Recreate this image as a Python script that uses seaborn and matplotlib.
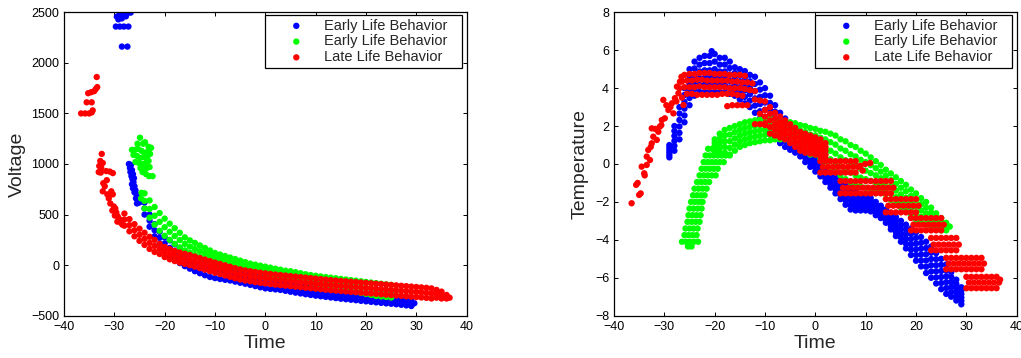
import numpy as np
import pandas as pd
import matplotlib
matplotlib.use("Agg")
import matplotlib.pyplot as plt
import seaborn as sns

nan = np.nan

LABELS = ["Early Life Behavior", "Early Life Behavior", "Late Life Behavior"]
COLORS = ["#0000ff", "#00ff00", "#ff0000"]

# ======================= LEFT PANEL : Voltage vs Time =======================
volt_blue_time = list(range(-24, 30))
volt_blue_upper = [620, 500, 405, 330, 275, 245, 205, 170, 140, 115, 90, 70, 50, 33, 12, -7, -25, -42,
                   -53, -64, -74, -85, -97, -109, -120, -135, -150, -165, -174, -183, -192, -200, -208,
                   -215, -222, -228, -234, -240, -246, -252, -257, -262, -267, -273, -278, -283, -288,
                   -293, -298, -302, -307, -312, -318, -324]
volt_blue_mid = [560, 440, 345, 270, 215, 170, 130, 95, 65, 40, 15, -5, -25, -42, -58, -72, -85, -97,
                 -108, -119, -129, -140, -152, -164, -175, -185, -195, -205, -214, -223, -232, -240,
                 -248, -255, -262, -268, -274, -280, -286, -292, -297, -302, -307, -313, -318, -323,
                 -328, -333, -338, -342, -347, -352, -358, -364]
volt_blue_lower = [500, 380, 285, 210, 155, 95, 55, 20, -10, -35, -60, -80, -100, -117, -128, -137, -145,
                   -152, -163, -174, -184, -195, -207, -219, -230, -235, -240, -245, -254, -263, -272,
                   -280, -288, -295, -302, -308, -314, -320, -326, -332, -337, -342, -347, -353, -358,
                   -363, -368, -373, -378, -382, -387, -392, -398, -404]
volt_blue_extra_time = [-29.5, -28.9, -28.1, -27.2, -26.75, -27.7, -29.2, -28.5, -29.7, -28.9, -28.1, -27.2,
                        -28.5, -27.4,
                        -27.1, -26.9, -26.7, -26.8, -26.5, -26.6, -26.3, -26.4, -26.1, -26.5, -26.2, -26.3,
                        -26.0, -25.8, -26.0, -25.6, -25.7, -25.4, -25.3, -25.5, -25.0, 29.6]
volt_blue_extra = [2457, 2484, 2474, 2497, 2497, 2460, 2430, 2440, 2359, 2359, 2359, 2359, 2161, 2161,
                   1000, 960, 990, 920, 940, 880, 900, 850, 860, 800, 820, 760, 780, 740, 720, 700, 660,
                   680, 640, 610, 620, -377]

volt_green_time = list(range(-24, 26))
volt_green_upper = [710, 640, 575, 515, 460, 410, 365, 320, 275, 245, 220, 195, 170, 145, 120, 105, 90, 75,
                    60, 45, 30, 15, 5, -5, -15, -25, -35, -45, -55, -60, -70, -80, -90, -98, -105, -112,
                    -118, -124, -130, -136, -142, -148, -154, -160, -166, -172, -178, -184, -190, -196]
volt_green_mid = [635, 555, 488, 428, 375, 330, 288, 248, 210, 183, 160, 138, 115, 93, 73, 58, 43, 30, 18,
                  5, -8, -20, -30, -40, -50, -60, -70, -80, -90, -98, -108, -118, -128, -137, -145, -154,
                  -162, -170, -178, -186, -194, -202, -210, -218, -226, -234, -242, -247, -253, -258]
volt_green_lower = [560, 470, 400, 340, 290, 250, 210, 175, 145, 120, 100, 80, 60, 40, 25, 10, -5, -15,
                    -25, -35, -45, -55, -65, -75, -85, -95, -105, -115, -125, -135, -145, -155, -165, -175,
                    -185, -195, -205, -215, -225, -235, -245, -255, -265, -275, -285, -295, -305, -310,
                    -315, -320]
volt_green_extra_time = [-24.9, -25.4, -24.3, -23.9, -23.2, -26.5, -25.9, -25.3, -24.6, -24.0, -23.4, -22.7,
                         -26.2, -25.5, -24.9, -24.2, -23.5, -22.9, -25.8, -25.1, -24.5, -23.8, -23.2,
                         -24.8, -24.2, -23.6, -23.0, -24.4, -23.7, -23.1, -22.4, -24.6, -24.7]
volt_green_extra = [1260, 1200, 1200, 1215, 1170, 1140, 1140, 1150, 1130, 1110, 1120, 1160, 1090, 1080,
                    1060, 1070, 1060, 1100, 1020, 1010, 1000, 1010, 1030, 960, 950, 960, 970, 920, 900,
                    880, 880, 715, 660]

volt_red_time = list(range(-28, 37))
volt_red_upper = [510, 455, 405, 360, 320, 280, 250, 210, 180, 158, 140, 125, 112, 100, 85, 70, 55, 40, 25,
                  12, -2, -16, -30, -42, -52, -60, -68, -75, -81, -87, -93, -98, -103, -108, -113, -118,
                  -123, -128, -133, -138, -143, -148, -152, -156, -160, -164, -168, -172, -176, -180,
                  -184, -188, -192, -196, -200, -204, -208, -212, -216, -220, -224, -230, -245, -262, -295]
volt_red_mid = [450, 395, 345, 300, 260, 220, 190, 160, 130, 108, 90, 75, 62, 50, 35, 20, 5, -10, -25, -38,
                -52, -66, -80, -92, -102, -110, -118, -125, -131, -137, -143, -148, -153, -158, -163, -168,
                -173, -178, -183, -188, -193, -198, -202, -206, -210, -214, -218, -222, -226, -230, -234,
                -238, -242, -246, -250, -254, -258, -262, -266, -270, -274, -280, -283, -296, -312]
volt_red_lower = [390, 335, 285, 240, 200, 160, 130, 110, 80, 58, 40, 25, 12, 0, -15, -30, -45, -60, -75,
                  -88, -102, -116, -130, -142, -152, -160, -168, -175, -181, -187, -193, -198, -203, -208,
                  -213, -218, -223, -228, -233, -238, -243, -248, -252, -256, -260, -264, -268, -272, -276,
                  -280, -284, -288, -292, -296, -300, -304, -308, -312, -316, -320, -324, -330, -322, -330,
                  -330]
volt_red_extra_time = [-36.6, -35.8, -35.0, -34.5, -34.3, -35.5, -34.5, -35.2, -34.6, -34.0, -33.7, -33.4,
                       -33.5,
                       -32.5, -32.8, -32.3, -33.0, -32.6, -33.1, -32.7, -31.6, -30.9, -30.3, -32.2, -31.9,
                       -32.3, -31.5, -31.4, -31.1, -30.6, -30.3, -30.8, -30.1, -29.8, -30.4, -29.6, -29.9,
                       -29.3, -29.0, -29.4, -28.7, -28.4, 36.6]
volt_red_extra = [1500, 1500, 1500, 1510, 1530, 1610, 1610, 1700, 1710, 1720, 1740, 1760, 1860,
                  1100, 1030, 1010, 980, 960, 920, 915, 930, 925, 910, 810, 780, 730, 840, 700, 660, 730,
                  700, 610, 580, 560, 540, 520, 490, 480, 455, 430, 420, 400, -322]

# ===================== RIGHT PANEL : Temperature vs Time =====================
temp_blue_time = list(range(-29, 30))
temp_blue_rows = [
    [1.0, 2.0, 3.0, 4.0, 5.0, 5.4, 5.6, 5.7, 5.7, 5.8, 5.6, 5.6, 5.4, 5.1, 5.0, 4.9, 4.7, 4.6, 4.3, 4.0,
     3.6, 3.1, 2.7, 2.4, 2.1, 1.8, 1.5, 1.2, 0.9, 0.6, 0.3, 0.0, -0.3, -0.5, -0.8, -1.0, -1.2, -1.4, -1.6,
     -1.7, -1.8, -2.0, -2.2, -2.4, -2.6, -2.8, -3.0, -3.2, -3.4, -3.6, -3.85, -4.1, -4.35, -4.7, -5.0, -5.3,
     -5.7, -6.1, -6.5],
    [0.87, 1.74, 2.66, 3.64, 4.62, 5.04, 5.24, 5.32, 5.32, 5.4, 5.24, 5.24, 5.06, 4.8, 4.68, 4.56, 4.36,
     4.22, 3.92, 3.62, 3.22, 2.76, 2.38, 2.1, 1.83, 1.56, 1.28, 0.98, 0.69, 0.4, 0.11, -0.19, -0.49, -0.71,
     -1.01, -1.23, -1.44, -1.61, -1.77, -1.85, -1.94, -2.14, -2.33, -2.54, -2.77, -3.0, -3.22, -3.45, -3.68,
     -3.9, -4.16, -4.43, -4.68, -5.02, -5.32, -5.61, -5.96, -6.32, -6.68],
    [0.74, 1.48, 2.32, 3.28, 4.24, 4.68, 4.88, 4.94, 4.94, 5.0, 4.88, 4.88, 4.72, 4.5, 4.36, 4.22, 4.02,
     3.84, 3.54, 3.24, 2.84, 2.42, 2.06, 1.8, 1.56, 1.32, 1.06, 0.76, 0.48, 0.2, -0.08, -0.38, -0.68, -0.92,
     -1.22, -1.46, -1.68, -1.82, -1.94, -2.0, -2.08, -2.28, -2.46, -2.68, -2.94, -3.2, -3.44, -3.7, -3.96,
     -4.2, -4.47, -4.76, -5.01, -5.34, -5.64, -5.92, -6.22, -6.54, -6.86],
    [0.61, 1.22, 1.98, 2.92, 3.86, 4.32, 4.52, 4.56, 4.56, 4.6, 4.52, 4.52, 4.38, 4.2, 4.04, 3.88, 3.68,
     3.46, 3.16, 2.86, 2.46, 2.08, 1.74, 1.5, 1.29, 1.08, 0.84, 0.54, 0.27, 0.0, -0.27, -0.57, -0.87, -1.13,
     -1.43, -1.69, -1.92, -2.03, -2.11, -2.15, -2.22, -2.42, -2.59, -2.82, -3.11, -3.4, -3.66, -3.95, -4.24,
     -4.5, -4.78, -5.09, -5.34, -5.66, -5.96, -6.23, -6.48, -6.76, -7.04],
    [0.48, 0.96, 1.64, 2.56, 3.48, 3.96, 4.16, 4.18, 4.18, 4.2, 4.16, 4.16, 4.04, 3.9, 3.72, 3.54, 3.34,
     3.08, 2.78, 2.48, 2.08, 1.74, 1.42, 1.2, 1.02, 0.84, 0.62, 0.32, 0.06, -0.2, -0.46, -0.76, -1.06, -1.34,
     -1.64, -1.92, -2.16, -2.24, -2.28, -2.3, -2.36, -2.56, -2.72, -2.96, -3.28, -3.6, -3.88, -4.2, -4.52,
     -4.8, -5.09, -5.42, -5.67, -5.98, -6.28, -6.54, -6.74, -6.98, -7.22],
    [0.35, 0.7, 1.3, 2.2, 3.1, 3.6, 3.8, 3.8, 3.8, 3.8, 3.8, 3.8, 3.7, 3.6, 3.4, 3.2, 3.0, 2.7, 2.4, 2.1,
     1.7, 1.4, 1.1, 0.9, 0.75, 0.6, 0.4, 0.1, -0.15, -0.4, -0.65, -0.95, -1.25, -1.55, -1.85, -2.15, -2.4,
     -2.45, -2.45, -2.45, -2.5, -2.7, -2.85, -3.1, -3.45, -3.8, -4.1, -4.45, -4.8, -5.1, -5.4, -5.75, -6.0,
     -6.3, -6.6, -6.85, -7.0, -7.2, -7.4],
]
temp_blue_extra_time = [-20.6]
temp_blue_extra = [5.95]

temp_green_time = list(range(-20, 27))
temp_green_rows = [
    [1.3, 1.6, 1.8, 1.9, 2.0, 2.1, 2.2, 2.25, 2.3, 2.35, 2.4, 2.4, 2.35, 2.3, 2.25, 2.2, 2.15, 2.05, 2.0,
     1.9, 1.85, 1.75, 1.7, 1.6, 1.5, 1.3, 1.2, 1.0, 0.9, 0.7, 0.55, 0.35, 0.15, -0.05, -0.3, -0.5, -0.7,
     -0.9, -1.1, -1.35, -1.55, -1.8, -2.0, -2.3, -2.6, -2.85, -3.1],
    [1.12, 1.35, 1.5, 1.55, 1.68, 1.8, 1.9, 1.96, 2.01, 2.06, 2.11, 2.11, 2.09, 2.05, 2.01, 1.95, 1.89,
     1.76, 1.68, 1.55, 1.51, 1.39, 1.3, 1.15, 1.02, 0.82, 0.7, 0.51, 0.4, 0.22, 0.1, -0.06, -0.22, -0.4,
     -0.62, -0.85, -1.05, -1.25, -1.44, -1.69, -1.9, -2.12, -2.3, -2.55, -2.8, -3.01, -3.2],
    [0.95, 1.1, 1.2, 1.2, 1.35, 1.5, 1.6, 1.68, 1.72, 1.78, 1.82, 1.82, 1.82, 1.8, 1.78, 1.7, 1.62, 1.48,
     1.35, 1.2, 1.18, 1.02, 0.9, 0.7, 0.55, 0.35, 0.2, 0.02, -0.1, -0.25, -0.35, -0.48, -0.6, -0.75, -0.95,
     -1.2, -1.4, -1.6, -1.78, -2.02, -2.25, -2.45, -2.6, -2.8, -3.0, -3.18, -3.3],
    [0.78, 0.85, 0.9, 0.85, 1.02, 1.2, 1.3, 1.39, 1.44, 1.49, 1.54, 1.54, 1.56, 1.55, 1.54, 1.45, 1.36,
     1.19, 1.02, 0.85, 0.84, 0.66, 0.5, 0.25, 0.08, -0.12, -0.3, -0.46, -0.6, -0.72, -0.8, -0.89, -0.98,
     -1.1, -1.28, -1.55, -1.75, -1.95, -2.11, -2.36, -2.6, -2.78, -2.9, -3.05, -3.2, -3.34, -3.4],
    [0.6, 0.6, 0.6, 0.5, 0.7, 0.9, 1.0, 1.1, 1.15, 1.2, 1.25, 1.25, 1.3, 1.3, 1.3, 1.2, 1.1, 0.9, 0.7, 0.5,
     0.5, 0.3, 0.1, -0.2, -0.4, -0.6, -0.8, -0.95, -1.1, -1.2, -1.25, -1.3, -1.35, -1.45, -1.6, -1.9, -2.1,
     -2.3, -2.45, -2.7, -2.95, -3.1, -3.2, -3.3, -3.4, -3.5, -3.5],
]
temp_green_branch_levels = [-4.35, -4.1, -3.75, -3.4, -3.05, -2.7, -2.35, -2.0, -1.65, -1.3, -0.95, -0.6,
                            -0.25, 0.1, 0.45, 0.8]
temp_green_branch_times = [
    [-25.3, -24.6], [-26.5, -25.7, -24.9, -24.1, -23.3], [-26.0, -25.2, -24.4, -23.6],
    [-25.8, -25.0, -24.2, -23.4], [-25.4, -24.6, -23.8, -23.0], [-25.2, -24.4, -23.6, -22.8],
    [-25.0, -24.2, -23.4, -22.6], [-24.7, -23.9, -23.1, -22.4], [-24.3, -23.5, -22.7, -22.0],
    [-24.0, -23.2, -22.4, -21.6], [-23.5, -22.7, -21.9, -21.1], [-23.0, -22.2, -21.4, -20.6, -19.8],
    [-22.6, -21.8, -21.0, -20.2, -19.4], [-22.2, -21.4, -20.6, -19.8, -19.0, -18.2],
    [-21.8, -21.0, -20.2, -19.4, -18.6, -17.8, -17.0], [-21.3, -20.5],
]
temp_green_extra_time = [26.7]
temp_green_extra = [-3.3]

temp_red_branch_time = [-36.5, -35.0, -34.7, -35.6, -35.3, -34.0, -34.5, -33.5, -33.9, -33.5, -32.85, -33.2,
                        -32.7, -32.5, -32.2, -31.5, -31.2, -32.5, -31.8, -30.9, -30.5, -29.9, -30.6, -30.2,
                        -29.2, -29.6, -28.5, -28.2, -28.8, -27.9, -27.2, -27.6, -27.5, -26.9, -26.6, -26.2,
                        -26.5]
temp_red_branch = [-2.07, -1.63, -1.55, -1.1, -1.0, -0.49, -0.14, -0.05, -0.6, 0.39, 0.21, 0.74, 0.9, 1.09,
                   1.44, 1.27, 1.7, 1.88, 1.85, 1.97, 2.32, 2.41, 2.05, 3.38, 2.85, 3.1, 3.2, 2.67, 3.0,
                   3.47, 3.73, 3.3, 4.08, 4.34, 4.6, 3.11, 3.5]
temp_red_top_starts = [-26, -26.5, -27, -25.5, -17.5]
temp_red_top_rows = [
    [4.7, 4.75, 4.75, 4.8, 4.8, 4.8, 4.75, 4.75, 4.75, 4.7, 4.7, 4.7, 4.65],
    [4.35, 4.4, 4.4, 4.45, 4.45, 4.4, 4.4, 4.4, 4.4, 4.4, 4.35, 4.35, 4.3, 4.3, 4.25],
    [4.0, 4.05, 4.05, 4.05, 4.1, 4.05, 4.05, 4.05, 4.05, 4.05, 4.0, 4.0, 4.0, 3.95, 3.9, 3.85],
    [3.7, 3.7, 3.65, 3.65, 3.65, 3.65, 3.65, 3.7, 3.7, 3.7, 3.65, 3.6],
    [3.05, 3.1, 3.1, 3.1, 3.1],
]
temp_red_slope_time = list(range(-12, 3))
temp_red_slope_rows = [
    [3.4, 3.35, 3.3, 3.0, 2.7, 2.5, 2.3, 2.1, 1.9, 1.7, 1.6, 1.5, 1.4, 1.3, 1.1],
    [nan, nan, 2.85, 2.65, 2.4, 2.22, 2.05, 1.85, 1.65, 1.45, 1.35, 1.26, 1.18, 1.08, 0.9],
    [nan, 2.65, 2.5, 2.3, 2.1, 1.95, 1.8, 1.6, 1.4, 1.2, 1.1, 1.02, 0.95, 0.85, 0.7],
    [nan, nan, 2.15, 1.95, 1.8, 1.68, 1.55, 1.35, 1.15, 0.95, 0.85, 0.79, 0.72, 0.62, 0.5],
    [2.1, 2.1, 2.05, 1.6, 1.5, 1.4, 1.3, 1.1, 0.9, 0.7, 0.6, 0.55, 0.5, 0.4, 0.3],
]
temp_red_step_spans = [(1, 8), (5, 15), (14, 20), (19, 25), (23, 28), (26, 33), (30, 36)]
temp_red_step_levels = [[0.15, -0.15, -0.45], [-0.9, -1.25, -1.55], [-1.85, -2.2, -2.55],
                        [-2.85, -3.2, -3.5], [-3.9, -4.25, -4.55], [-4.95, -5.25, -5.55],
                        [-5.95, -6.25, -6.55]]
temp_red_extra_time = [8.9, 9.9, 10.9, 9.4, 36.7]
temp_red_extra = [-0.1, 0.0, 0.05, -0.35, -6.1]


# ------------------------------- helpers ---------------------------------
def frame(parts):
    xs, ys = [], []
    for t, v in parts:
        xs.extend(list(t))
        ys.extend(list(v))
    df = pd.DataFrame({"time": xs, "value": ys})
    return df.dropna()


volt_frames = [
    frame([(volt_blue_extra_time, volt_blue_extra), (volt_blue_time, volt_blue_upper),
           (volt_blue_time, volt_blue_mid), (volt_blue_time, volt_blue_lower)]),
    frame([(volt_green_extra_time, volt_green_extra), (volt_green_time, volt_green_upper),
           (volt_green_time, volt_green_mid), (volt_green_time, volt_green_lower)]),
    frame([(volt_red_extra_time, volt_red_extra), (volt_red_time, volt_red_upper),
           (volt_red_time, volt_red_mid), (volt_red_time, volt_red_lower)]),
]

green_branch_parts = [(ts, [lv] * len(ts)) for lv, ts in zip(temp_green_branch_levels, temp_green_branch_times)]
red_top_parts = [(np.arange(len(r)) + s, r) for s, r in zip(temp_red_top_starts, temp_red_top_rows)]
red_step_parts = []
for (a, b), levels in zip(temp_red_step_spans, temp_red_step_levels):
    for k, lv in enumerate(levels):
        ts = np.arange(a, b + 1) + (0.5 if k == 1 else 0.0)
        red_step_parts.append((ts, [lv] * len(ts)))

temp_frames = [
    frame([(temp_blue_time, r) for r in temp_blue_rows] + [(temp_blue_extra_time, temp_blue_extra)]),
    frame(green_branch_parts + [(temp_green_time, r) for r in temp_green_rows]
          + [(temp_green_extra_time, temp_green_extra)]),
    frame([(temp_red_branch_time, temp_red_branch)] + red_top_parts
          + [(temp_red_slope_time, r) for r in temp_red_slope_rows] + red_step_parts
          + [(temp_red_extra_time, temp_red_extra)]),
]

# ------------------------------- styling ---------------------------------
sns.set_theme(style="ticks")
plt.rcParams["font.family"] = ["Liberation Sans", "DejaVu Sans"]
plt.rcParams["axes.edgecolor"] = "black"
plt.rcParams["axes.linewidth"] = 0.9

W, H = 1021, 358
fig = plt.figure(figsize=(W / 100, H / 100), dpi=100)
ax_l = fig.add_axes([64 / W, 1 - 315.7 / H, 402.7 / W, 303.4 / H])
ax_r = fig.add_axes([614 / W, 1 - 315.7 / H, 402.7 / W, 303.4 / H])

panels = [
    (ax_l, volt_frames, "Voltage", (-500, 2500), np.arange(-500, 2501, 500), -0.094),
    (ax_r, temp_frames, "Temperature", (-8, 8), np.arange(-8, 9, 2), -0.062),
]

for ax, frames, ylab, ylim, yticks, ylab_x in panels:
    for df, col, lab in zip(frames, COLORS, LABELS):
        sns.scatterplot(data=df, x="time", y="value", color=col, s=21, linewidth=0,
                        edgecolor="none", ax=ax, label=lab, legend=False)
    ax.set_xlim(-40, 40)
    ax.set_ylim(*ylim)
    ax.set_xticks(np.arange(-40, 41, 10))
    ax.set_yticks(yticks)
    ax.tick_params(direction="in", top=True, right=True, length=3, width=0.7,
                   labelsize=9, pad=3.5, colors="black")
    for sp in ax.spines.values():
        sp.set_visible(True)
        sp.set_color("black")
        sp.set_linewidth(0.9)
    ax.set_xlabel("Time", fontsize=14)
    ax.set_ylabel(ylab, fontsize=14)
    ax.xaxis.set_label_coords(0.5, -0.063)
    ax.yaxis.set_label_coords(ylab_x, 0.5)
    leg = ax.legend(loc="upper left", bbox_to_anchor=(0.499, 0.5, 0.489, 0.491), mode="expand",
                    borderaxespad=0, fontsize=10.5, frameon=True, fancybox=False, framealpha=1,
                    edgecolor="black", borderpad=0.25, labelspacing=0.12,
                    handlelength=3.8, handletextpad=0.0, markerscale=1.0, scatterpoints=1)
    leg.get_frame().set_linewidth(0.9)

fig.savefig("out.png", dpi=100)
